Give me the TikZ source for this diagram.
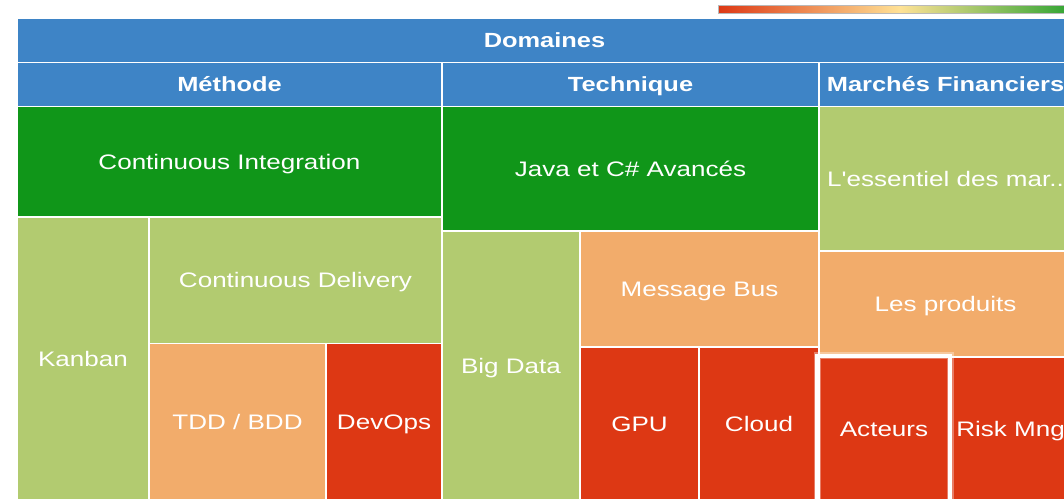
\documentclass[tikz,border=0pt]{standalone}
\usepackage{fontspec}
\usepackage{graphicx}
\setmainfont{Liberation Sans}
\definecolor{hblue}{RGB}{62,132,198}
\definecolor{dgreen}{RGB}{16,150,25}
\definecolor{lgreen}{RGB}{178,203,112}
\definecolor{lorange}{RGB}{242,172,107}
\definecolor{lred}{RGB}{221,56,20}
\definecolor{gmid}{RGB}{255,226,150}
\definecolor{gend}{RGB}{34,160,44}
% labels are set a little wide, as in the dashboard rendering
\newcommand{\wt}[1]{\scalebox{1.24}[1]{#1}}
% \tcell{name}{x1}{y1}{x2}{y2}{style}{text}
\newcommand{\tcell}[7]{%
  \node[#6, minimum width={#4pt-#2pt}, minimum height={#5pt-#3pt}]
    (#1) at ({(#2+#4)/2},{(#3+#5)/2}) {\wt{#7}};}
\tikzset{
  cell/.style={draw=white, line width=1.6pt, inner sep=0pt, outer sep=0pt,
    text=white, text height=15pt, text depth=0pt,
    font=\fontsize{21}{25}\selectfont},
  hdr/.style={cell, fill=hblue, text height=14.6pt,
    font=\fontsize{20.5}{24}\selectfont\bfseries},
  hot/.style={cell, fill=dgreen},
  good/.style={cell, fill=lgreen},
  mid/.style={cell, fill=lorange},
  low/.style={cell, fill=lred},
  hilite/.style={draw=white, line width=3.5pt},
  glow/.style={draw=white, line width=7pt, opacity=0.35},
}
\begin{document}
\begin{tikzpicture}[x=1pt,y=-1pt]
\useasboundingbox (0,0) rectangle (1064,498);
\clip (0,0) rectangle (1064,498);

% colour scale
\shade[left color=lred, right color=gend, middle color=gmid,
  draw=gray!55, line width=0.8pt] (718,5) rectangle (1082,13);

% headers
\tcell{dom}{17}{18}{1072}{62.5}{hdr}{Domaines}
\tcell{meth}{17}{62.5}{442}{106.5}{hdr}{Méthode}
\tcell{tech}{442}{62.5}{819}{106.5}{hdr}{Technique}
\tcell{mf}{819}{62.5}{1072}{106.5}{hdr}{Marchés Financiers}

% Méthode
\tcell{ci}{17}{106.5}{442}{217}{hot}{Continuous Integration}
\tcell{kanban}{17}{217}{149}{500}{good}{Kanban}
\tcell{cd}{149}{217}{442}{343.5}{good}{Continuous Delivery}
\tcell{tdd}{149}{343.5}{326}{500}{mid}{TDD / BDD}
\tcell{devops}{326}{343.5}{442}{500}{low}{DevOps}

% Technique
\tcell{java}{442}{106.5}{819}{231}{hot}{Java et C\# Avancés}
\tcell{bigdata}{442}{231}{580}{500}{good}{Big Data}
\tcell{mbus}{580}{231}{819}{347}{mid}{Message Bus}
\tcell{gpu}{580}{347}{699}{500}{low}{GPU}
\tcell{cloud}{699}{347}{819}{500}{low}{Cloud}

% Marchés Financiers
\tcell{ess}{819}{106.5}{1072}{251}{good}{L\textquotesingle essentiel des mar..}
\tcell{prod}{819}{251}{1072}{357}{mid}{Les produits}
\tcell{act}{819}{357}{949}{500}{low}{Acteurs}
\tcell{risk}{949}{357}{1072}{500}{low}{Risk Mng}

% selected tile
\draw[glow] ([shift={(-2,-1.5)}]act.north west) rectangle ([shift={(1,10)}]act.south east);
\draw[hilite] ([shift={(-2,-1.5)}]act.north west) rectangle ([shift={(1,10)}]act.south east);
\end{tikzpicture}
\end{document}
